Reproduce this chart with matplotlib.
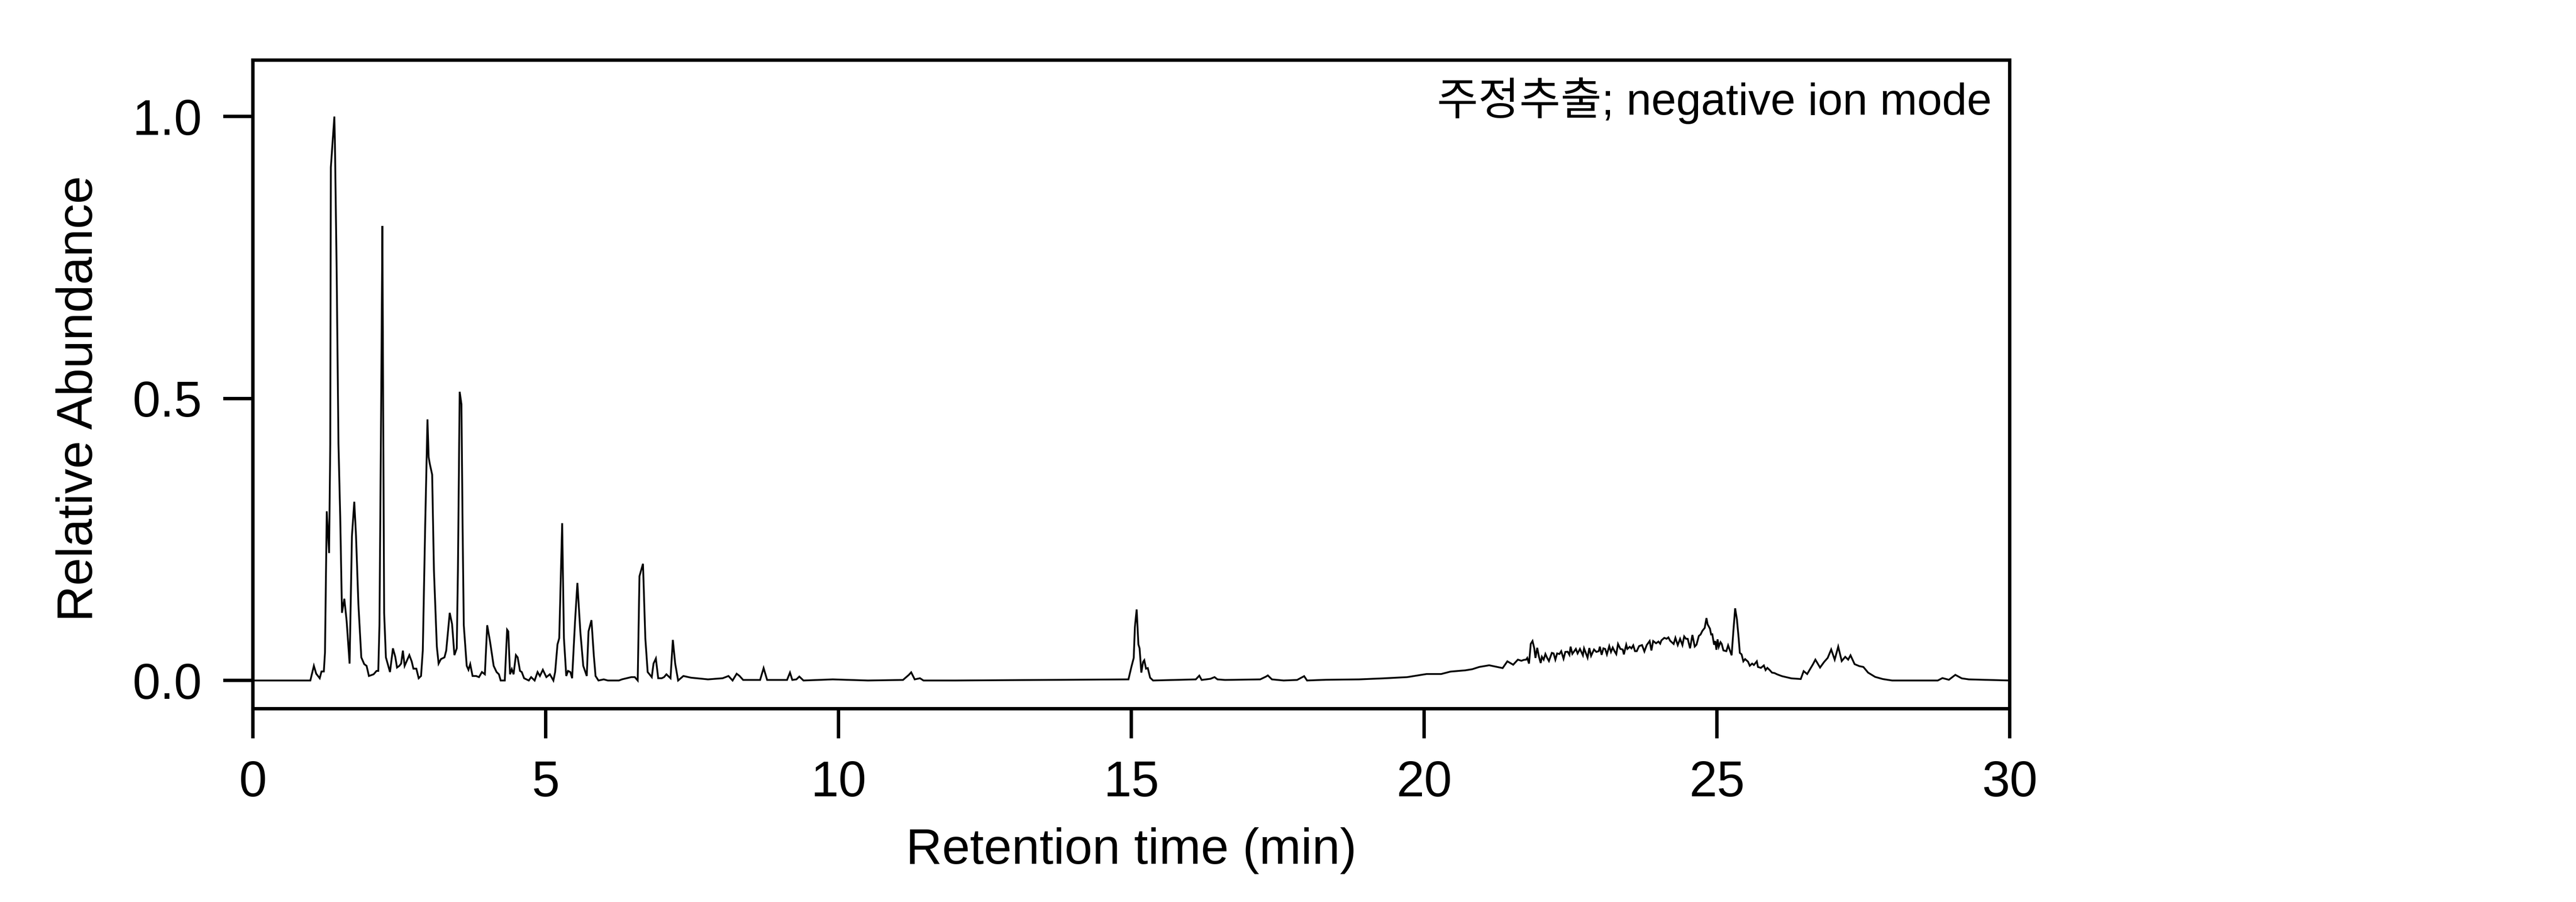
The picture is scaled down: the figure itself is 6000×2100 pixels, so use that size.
import numpy as np
import matplotlib
matplotlib.use("Agg")
import matplotlib.pyplot as plt

plt.rcParams['font.family'] = ['Liberation Sans', 'Noto Sans CJK KR', 'DejaVu Sans']

# ---- chromatogram (retention time in min, relative abundance) ----
early_time = [0.00, 0.98, 1.04, 1.08, 1.14, 1.17, 1.21, 1.23, 1.26, 1.30, 1.32, 1.33, 1.39, 1.40,
              1.43, 1.46, 1.49, 1.52, 1.56, 1.60, 1.65, 1.69, 1.73, 1.76, 1.80, 1.85, 1.90, 1.94,
              1.98, 2.06, 2.11, 2.14, 2.16, 2.19, 2.21, 2.22, 2.24, 2.27, 2.34, 2.39, 2.43, 2.46,
              2.50, 2.53, 2.56, 2.59, 2.67, 2.71, 2.74, 2.79, 2.83, 2.87, 2.90, 2.94, 2.98, 3.00,
              3.02, 3.06, 3.09, 3.14, 3.17, 3.21, 3.27, 3.30, 3.36, 3.40, 3.44, 3.48, 3.50, 3.53,
              3.56, 3.58, 3.60, 3.65, 3.68, 3.71, 3.75, 3.81, 3.86, 3.91, 3.96, 4.00, 4.05, 4.11,
              4.16, 4.20, 4.23, 4.30, 4.34, 4.36, 4.39, 4.42, 4.45, 4.49, 4.52, 4.56, 4.59, 4.63,
              4.71, 4.75, 4.81, 4.86, 4.90, 4.95, 5.01, 5.07, 5.13, 5.16, 5.20, 5.23, 5.28, 5.31,
              5.35, 5.38, 5.42, 5.45, 5.50, 5.54, 5.59, 5.64, 5.70, 5.73, 5.78, 5.82, 5.85, 5.90,
              5.99, 6.06, 6.25, 6.30, 6.46, 6.52, 6.57, 6.60, 6.66, 6.70, 6.74, 6.81, 6.84, 6.88,
              6.92, 6.98, 7.02, 7.06, 7.09, 7.13, 7.17, 7.21, 7.26]
early_abund = [0.0, 0.0, 0.026, 0.012, 0.004, 0.016, 0.016, 0.05, 0.30, 0.226, 0.42, 0.91, 1.0, 0.95,
               0.72, 0.42, 0.29, 0.12, 0.145, 0.105, 0.03, 0.256, 0.317, 0.256, 0.136, 0.041, 0.029, 0.026,
               0.008, 0.011, 0.017, 0.017, 0.098, 0.50, 0.806, 0.57, 0.12, 0.041, 0.015, 0.057, 0.042, 0.023,
               0.026, 0.03, 0.053, 0.026, 0.045, 0.034, 0.021, 0.021, 0.004, 0.008, 0.053, 0.27, 0.463, 0.396,
               0.384, 0.365, 0.196, 0.06, 0.03, 0.038, 0.041, 0.053, 0.12, 0.10, 0.045, 0.057, 0.196, 0.512,
               0.49, 0.27, 0.098, 0.026, 0.019, 0.029, 0.008, 0.008, 0.006, 0.015, 0.011, 0.098, 0.068, 0.026,
               0.015, 0.011, 0.0, 0.0, 0.09, 0.087, 0.011, 0.02, 0.011, 0.045, 0.041, 0.017, 0.015, 0.004,
               0.0, 0.006, 0.0, 0.015, 0.008, 0.019, 0.006, 0.011, 0.0, 0.015, 0.064, 0.075, 0.279, 0.075,
               0.008, 0.017, 0.015, 0.004, 0.105, 0.173, 0.087, 0.026, 0.008, 0.087, 0.107, 0.045, 0.008, 0.0,
               0.002, 0.0, 0.0, 0.002, 0.006, 0.006, 0.0, 0.185, 0.207, 0.075, 0.015, 0.006, 0.03, 0.039,
               0.004, 0.004, 0.006, 0.011, 0.008, 0.004, 0.072, 0.03, 0.0]

mid_time = [7.35, 7.48, 7.77, 8.02, 8.12, 8.19, 8.26, 8.31, 8.37, 8.66, 8.72, 8.78, 9.12, 9.17,
            9.21, 9.28, 9.33, 9.40, 9.90, 10.50, 11.10, 11.20, 11.24, 11.30, 11.39, 11.45, 12.00,
            14.95, 15.00, 15.04, 15.06, 15.09, 15.12, 15.14, 15.17, 15.20, 15.22, 15.25, 15.28,
            15.32, 15.37, 16.10, 16.16, 16.20, 16.35, 16.42, 16.47, 16.60, 17.20, 17.30, 17.33,
            17.40, 17.60, 17.83, 17.95, 18.00, 18.32, 18.89, 19.30, 19.71, 20.04, 20.29, 20.45,
            20.70, 20.82, 20.94, 21.11, 21.34, 21.42, 21.52, 21.60]
mid_abund = [0.008, 0.005, 0.002, 0.004, 0.008, 0.0, 0.012, 0.008, 0.001, 0.001, 0.022, 0.001, 0.001, 0.014,
             0.001, 0.002, 0.007, 0.0, 0.002, 0.0, 0.001, 0.010, 0.0145, 0.002, 0.004, 0.0, 0.0,
             0.002, 0.024, 0.040, 0.095, 0.126, 0.064, 0.057, 0.014, 0.033, 0.036, 0.021, 0.022,
             0.005, 0.0, 0.002, 0.0086, 0.001, 0.003, 0.006, 0.002, 0.001, 0.002, 0.007, 0.009,
             0.002, 0.0, 0.001, 0.0077, 0.0, 0.0013, 0.002, 0.0038, 0.006, 0.0115, 0.0115, 0.0158,
             0.018, 0.020, 0.024, 0.027, 0.022, 0.034, 0.028, 0.037]

hump_time = [21.66, 21.70, 21.74, 21.76, 21.79, 21.82, 21.85, 21.88, 21.90, 21.93, 21.96, 21.99, 22.01,
             22.04, 22.07, 22.10, 22.13, 22.18, 22.21, 22.24, 22.27, 22.31, 22.34, 22.38, 22.41, 22.45,
             22.48, 22.50, 22.53, 22.59, 22.62, 22.66, 22.71, 22.73, 22.79, 22.82, 22.85, 22.90, 22.94,
             22.98, 23.00, 23.03, 23.06, 23.09, 23.12, 23.16, 23.19, 23.22, 23.25, 23.28, 23.31, 23.35,
             23.39, 23.41, 23.45, 23.47, 23.51, 23.54, 23.57, 23.60, 23.63, 23.67, 23.72, 23.76, 23.80,
             23.85, 23.88, 23.91, 23.96, 24.00, 24.03, 24.05, 24.10, 24.14, 24.17, 24.20, 24.26, 24.29,
             24.33, 24.37, 24.41, 24.44, 24.47, 24.50, 24.54, 24.58, 24.62, 24.65, 24.69, 24.72, 24.75,
             24.79, 24.82, 24.84, 24.88, 24.90, 24.92, 24.95, 24.97, 24.99, 25.01, 25.03, 25.06, 25.08,
             25.11, 25.16, 25.19, 25.23, 25.25, 25.28, 25.31, 25.34, 25.37, 25.39, 25.42, 25.45, 25.48,
             25.53, 25.56, 25.60, 25.63, 25.68, 25.70, 25.75, 25.80, 25.83, 25.86, 25.90, 25.94, 25.98,
             26.03]
hump_abund = [0.035, 0.0365, 0.037, 0.040, 0.030, 0.065, 0.070, 0.057, 0.040, 0.058, 0.042, 0.031, 0.042,
              0.037, 0.047, 0.040, 0.0345, 0.049, 0.048, 0.037, 0.048, 0.047, 0.052, 0.0386, 0.0507, 0.051,
              0.0455, 0.060, 0.0473, 0.056, 0.048, 0.056, 0.0447, 0.057, 0.0404, 0.0576, 0.0437, 0.055, 0.0507,
              0.052, 0.060, 0.0455, 0.057, 0.056, 0.0463, 0.061, 0.0507, 0.0584, 0.052, 0.0468, 0.0648, 0.056,
              0.055, 0.0463, 0.0635, 0.056, 0.0597, 0.057, 0.0623, 0.052, 0.052, 0.061, 0.0628, 0.0515, 0.0628,
              0.070, 0.0533, 0.070, 0.066, 0.069, 0.0653, 0.071, 0.0756, 0.074, 0.0764, 0.0705, 0.0648, 0.0756,
              0.0628, 0.0739, 0.0628, 0.0782, 0.074, 0.0739, 0.0571, 0.0808, 0.0602, 0.0635, 0.079, 0.0816, 0.088,
              0.0932, 0.1107, 0.0996, 0.0919, 0.0816, 0.082, 0.0635, 0.070, 0.0545, 0.073, 0.0597, 0.068, 0.065,
              0.0533, 0.052, 0.0623, 0.0507, 0.0447, 0.088, 0.128, 0.1086, 0.075, 0.049, 0.0463, 0.034, 0.038,
              0.0334, 0.0262, 0.030, 0.0275, 0.034, 0.024, 0.0224, 0.0267, 0.0185, 0.0224, 0.0185, 0.0139, 0.0133,
              0.0108]

late_time = [26.11, 26.27, 26.43, 26.48, 26.54, 26.64, 26.68, 26.76, 26.83, 26.89, 26.95, 27.01, 27.07,
             27.13, 27.19, 27.24, 27.28, 27.35, 27.43, 27.50, 27.58, 27.70, 27.83, 27.99, 28.77, 28.85,
             28.96, 29.07, 29.18, 29.30, 30.00]
late_abund = [0.0077, 0.0038, 0.0026, 0.0166, 0.0115, 0.029, 0.037, 0.023, 0.033, 0.040, 0.055, 0.037, 0.060,
              0.0345, 0.042, 0.037, 0.0447, 0.029, 0.0255, 0.024, 0.014, 0.0064, 0.0026, 0.0, 0.0, 0.0043,
              0.0013, 0.010, 0.0038, 0.002, 0.0]

x_ticks = [0, 5, 10, 15, 20, 25, 30]
y_ticks = [0.0, 0.5, 1.0]
x_label = "Retention time (min)"
y_label = "Relative Abundance"
note = "주정추출; negative ion mode"

time = np.concatenate([early_time, mid_time, hump_time, late_time])
abund = np.concatenate([early_abund, mid_abund, hump_abund, late_abund])

fig = plt.figure(figsize=(20, 7), dpi=300)
ax = fig.add_axes([0.0982, 0.2143, 0.6820, 0.7190])
ax.plot(time, abund, color='black', linewidth=1.0, solid_joinstyle='miter')

ax.set_xlim(0, 30)
ax.set_ylim(-0.05, 1.1)
ax.set_xticks(x_ticks)
ax.set_yticks(y_ticks)
ax.set_yticklabels([f"{v:.1f}" for v in y_ticks])
for s in ax.spines.values():
    s.set_linewidth(1.9)
ax.tick_params(axis='both', direction='out', length=16.5, width=1.9, labelsize=28, pad=12,
               top=False, right=False)

ax.set_xlabel(x_label, fontsize=28)
ax.set_ylabel(y_label, fontsize=28)
ax.xaxis.set_label_coords(0.5, -0.183)
ax.yaxis.set_label_coords(-0.0855, 0.478)

ax.text(0.9897, 0.9159, note, transform=ax.transAxes, ha='right', va='baseline', fontsize=25)

fig.savefig("out.png", dpi=300)
